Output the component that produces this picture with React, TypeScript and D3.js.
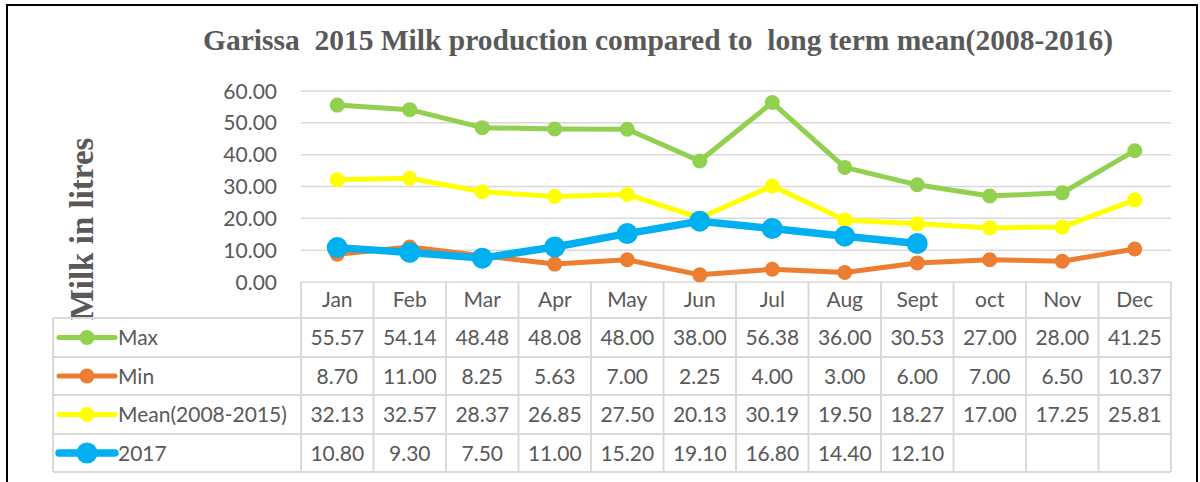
import React from "react";
import * as d3 from "d3";

const months = ["Jan", "Feb", "Mar", "Apr", "May", "Jun", "Jul", "Aug", "Sept", "oct", "Nov", "Dec"];
const maxVals = [55.57, 54.14, 48.48, 48.08, 48.0, 38.0, 56.38, 36.0, 30.53, 27.0, 28.0, 41.25];
const minVals = [8.7, 11.0, 8.25, 5.63, 7.0, 2.25, 4.0, 3.0, 6.0, 7.0, 6.5, 10.37];
const meanVals = [32.13, 32.57, 28.37, 26.85, 27.5, 20.13, 30.19, 19.5, 18.27, 17.0, 17.25, 25.81];
const vals2017: (number | null)[] = [10.8, 9.3, 7.5, 11.0, 15.2, 19.1, 16.8, 14.4, 12.1, null, null, null];
const yTicks = [0, 10, 20, 30, 40, 50, 60];

const seriesList = [
  { name: "Max", values: maxVals as (number | null)[], color: "#92D050", width: 5, r: 7.5 },
  { name: "Min", values: minVals as (number | null)[], color: "#ED7D31", width: 5, r: 7.5 },
  { name: "Mean(2008-2015)", values: meanVals as (number | null)[], color: "#FFFF00", width: 5, r: 7.5 },
  { name: "2017", values: vals2017, color: "#00B0F0", width: 7.5, r: 10.5 },
];

const W = 1200;
const H = 482;
const plotLeft = 301;
const plotRight = 1171;
const y0 = 282;
const y60 = 91;
const legendLeft = 53;
const rowYs = [318, 357, 395, 434, 472];
const textColor = "#595959";
const gridColor = "#D9D9D9";
const sansFont = "Lato, 'Open Sans', sans-serif";
const serifFont = "'Liberation Serif', 'Times New Roman', serif";
const fs = 21;

export default function App() {
  const x = d3.scaleBand<string>().domain(months).range([plotLeft, plotRight]).padding(0);
  const y = d3.scaleLinear().domain([0, 60]).range([y0, y60]);
  const cx = (m: string) => (x(m) as number) + x.bandwidth() / 2;

  const line = d3
    .line<number | null>()
    .defined((d) => d !== null)
    .x((_, i) => cx(months[i]))
    .y((d) => y(d as number));

  const fmt = d3.format(".2f");
  const colEdges = months.map((m) => x(m) as number).concat([plotRight]);

  return (
    <svg width={W} height={H} style={{ display: "block", position: "absolute", left: 0, top: 0 }}>
      <rect x={0} y={0} width={W} height={H} fill="#fff" />
      <rect x={7} y={5} width={1190} height={500} fill="none" stroke="#000" strokeWidth={2} />
      <text
        x={658}
        y={50}
        textAnchor="middle"
        fontFamily={serifFont}
        fontWeight="bold"
        fontSize={29.5}
        fill={textColor}
        style={{ whiteSpace: "pre" }}
      >
        {"Garissa  2015 Milk production compared to  long term mean(2008-2016)"}
      </text>
      <text
        transform={`translate(93,229) rotate(-90)`}
        textAnchor="middle"
        fontFamily={serifFont}
        fontWeight="bold"
        fontSize={33}
        fill={textColor}
      >
        Milk in litres
      </text>

      {yTicks.map((t) => (
        <g key={t}>
          <line x1={plotLeft} x2={plotRight} y1={y(t)} y2={y(t)} stroke={gridColor} strokeWidth={1.5} />
          <text
            x={277}
            y={y(t) + 7.5}
            textAnchor="end"
            fontFamily={sansFont}
            fontSize={fs}
            fill={textColor}
          >
            {fmt(t)}
          </text>
        </g>
      ))}

      {rowYs.map((ry) => (
        <line key={"h" + ry} x1={legendLeft} x2={plotRight} y1={ry} y2={ry} stroke={gridColor} strokeWidth={2} />
      ))}
      {colEdges.map((cxp, i) => (
        <line key={"v" + i} x1={cxp} x2={cxp} y1={y0} y2={rowYs[rowYs.length - 1]} stroke={gridColor} strokeWidth={2} />
      ))}
      <line x1={legendLeft} x2={legendLeft} y1={rowYs[0]} y2={rowYs[rowYs.length - 1]} stroke={gridColor} strokeWidth={2} />

      {months.map((m) => (
        <text key={m} x={cx(m)} y={307} textAnchor="middle" fontFamily={sansFont} fontSize={fs} fill={textColor}>
          {m}
        </text>
      ))}

      {seriesList.map((s, si) => {
        const rowMid = (rowYs[si] + rowYs[si + 1]) / 2;
        return (
          <g key={"row" + s.name}>
            <line x1={59} x2={115} y1={rowMid} y2={rowMid} stroke={s.color} strokeWidth={s.width} strokeLinecap="round" />
            <circle cx={87} cy={rowMid} r={s.r} fill={s.color} />
            <text x={118} y={rowMid + 7.5} fontFamily={sansFont} fontSize={fs} fill={textColor}>
              {s.name}
            </text>
            {s.values.map((v, i) =>
              v === null ? null : (
                <text
                  key={i}
                  x={cx(months[i])}
                  y={rowMid + 7.5}
                  textAnchor="middle"
                  fontFamily={sansFont}
                  fontSize={fs}
                  fill={textColor}
                >
                  {fmt(v)}
                </text>
              )
            )}
          </g>
        );
      })}

      {seriesList.map((s) => (
        <g key={"s" + s.name}>
          <path
            d={line(s.values) || ""}
            fill="none"
            stroke={s.color}
            strokeWidth={s.width}
            strokeLinejoin="round"
            strokeLinecap="round"
          />
          {s.values.map((v, i) =>
            v === null ? null : <circle key={i} cx={cx(months[i])} cy={y(v)} r={s.r} fill={s.color} />
          )}
        </g>
      ))}
    </svg>
  );
}
